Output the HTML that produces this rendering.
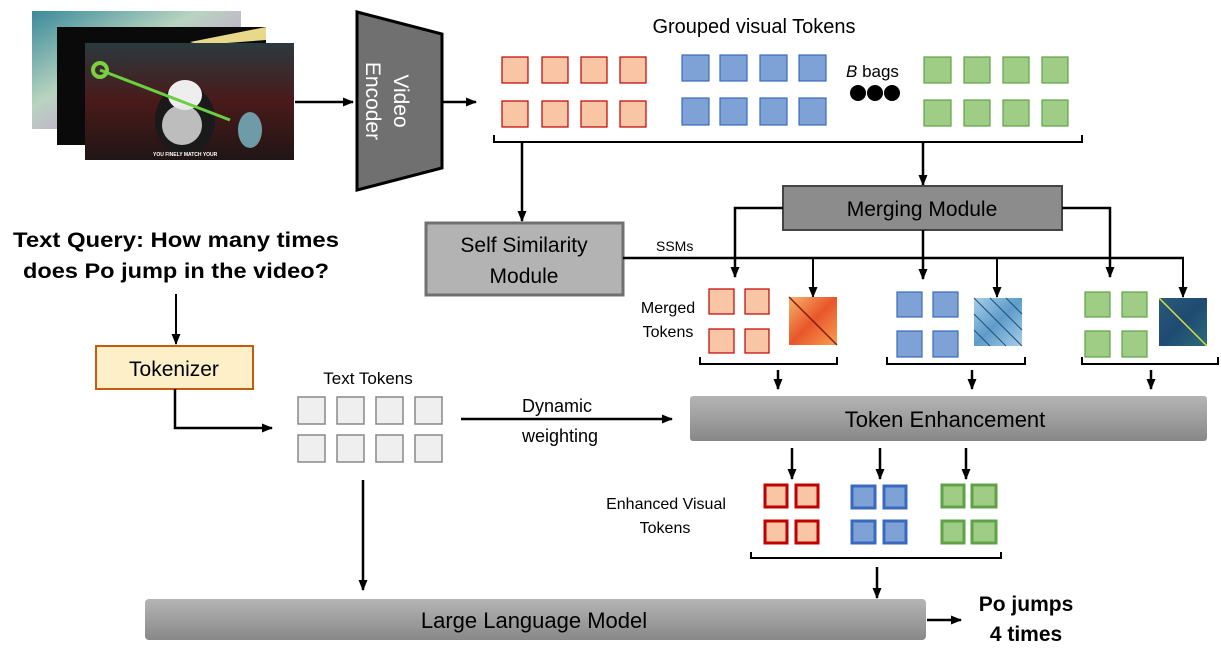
<!DOCTYPE html>
<html><head><meta charset="utf-8"><style>
html,body{margin:0;padding:0;background:#fff;}
svg{display:block;font-family:"Liberation Sans",sans-serif;}
</style></head><body>
<svg width="1221" height="651" viewBox="0 0 1221 651" xmlns="http://www.w3.org/2000/svg">
<defs>
<marker id="a" markerWidth="12" markerHeight="12" refX="10" refY="6" orient="auto" markerUnits="userSpaceOnUse"><path d="M0,1.5 L11,6 L0,10.5 z" fill="#000"/></marker>
<linearGradient id="g" x1="0" y1="0" x2="0" y2="1"><stop offset="0" stop-color="#b5b5b5"/><stop offset="1" stop-color="#888"/></linearGradient>
<linearGradient id="f1" x1="0" y1="0" x2="1" y2="1"><stop offset="0" stop-color="#3a8a9a"/><stop offset=".4" stop-color="#b8d4c0"/><stop offset=".7" stop-color="#c9a0d0"/><stop offset="1" stop-color="#e0c8e8"/></linearGradient>
<linearGradient id="f3" x1="0" y1="0" x2="0" y2="1"><stop offset="0" stop-color="#2a3a3e"/><stop offset=".5" stop-color="#4a1a1a"/><stop offset="1" stop-color="#201515"/></linearGradient>
<linearGradient id="hp" x1="0" y1="0" x2="1" y2="1"><stop offset="0" stop-color="#f7b36a"/><stop offset=".5" stop-color="#e8562a"/><stop offset="1" stop-color="#f8a050"/></linearGradient>
<linearGradient id="hb" x1="0" y1="0" x2="1" y2="1"><stop offset="0" stop-color="#a8cde8"/><stop offset=".5" stop-color="#5e9cc8"/><stop offset="1" stop-color="#a8cde8"/></linearGradient>
<linearGradient id="hg" x1="0" y1="0" x2="1" y2="1"><stop offset="0" stop-color="#2b5a7a"/><stop offset=".5" stop-color="#1f4a72"/><stop offset="1" stop-color="#2a6a7a"/></linearGradient>
</defs>

<rect x="32" y="11" width="209" height="118" fill="url(#f1)"/>
<rect x="57" y="27" width="209" height="118" fill="#0a0a0a"/>
<path d="M190,42 L266,27 L266,40 L200,45z" fill="#e8d88a"/>
<rect x="85" y="43" width="209" height="117" fill="url(#f3)"/>
<ellipse cx="185" cy="120" rx="30" ry="35" fill="#1a1a1a"/>
<ellipse cx="185" cy="95" rx="17" ry="15" fill="#eee"/>
<ellipse cx="182" cy="125" rx="20" ry="20" fill="#e6e6e6" opacity=".8"/>
<line x1="100" y1="70" x2="230" y2="120" stroke="#6ad040" stroke-width="3"/>
<circle cx="100" cy="70" r="7" fill="none" stroke="#7ad040" stroke-width="4"/>
<ellipse cx="250" cy="130" rx="12" ry="18" fill="#6f9aa8"/>
<text x="153" y="156" font-size="5" fill="#fff" font-weight="bold">YOU FINELY MATCH YOUR</text>

<path d="M357,12 L442,34 L442,168 L357,190 Z" fill="#707070" stroke="#000" stroke-width="3"/>
<text transform="translate(386,101) rotate(90)" text-anchor="middle" font-size="21" fill="#fff"><tspan x="0" dy="-8">Video</tspan><tspan x="0" dy="28">Encoder</tspan></text>
<line x1="295" y1="102" x2="353" y2="102" stroke="#000" stroke-width="2.5" marker-end="url(#a)"/>
<line x1="442" y1="102" x2="476" y2="102" stroke="#000" stroke-width="2.5" marker-end="url(#a)"/>

<text x="754" y="33" font-size="20" text-anchor="middle">Grouped visual Tokens</text>
<g fill="#f8c5a5" stroke="#c00000" stroke-width="1.2">
<rect x="502" y="57" width="26" height="26"/><rect x="542" y="57" width="26" height="26"/><rect x="581" y="57" width="26" height="26"/><rect x="620" y="57" width="26" height="26"/>
<rect x="502" y="101" width="26" height="26"/><rect x="542" y="101" width="26" height="26"/><rect x="581" y="101" width="26" height="26"/><rect x="620" y="101" width="26" height="26"/>
</g>
<g fill="#7fa2d6" stroke="#3a6abf" stroke-width="1.2">
<rect x="682" y="55" width="27" height="26"/><rect x="720" y="55" width="27" height="26"/><rect x="760" y="55" width="27" height="26"/><rect x="799" y="55" width="27" height="26"/>
<rect x="682" y="98" width="27" height="27"/><rect x="720" y="98" width="27" height="27"/><rect x="760" y="98" width="27" height="27"/><rect x="799" y="98" width="27" height="27"/>
</g>
<g fill="#9fcd86" stroke="#5fa245" stroke-width="1.2">
<rect x="924" y="57" width="27" height="26"/><rect x="964" y="57" width="26" height="26"/><rect x="1003" y="57" width="26" height="26"/><rect x="1042" y="57" width="26" height="26"/>
<rect x="924" y="100" width="27" height="26"/><rect x="964" y="100" width="26" height="26"/><rect x="1003" y="100" width="26" height="26"/><rect x="1042" y="100" width="26" height="26"/>
</g>
<text x="846" y="77" font-size="17"><tspan font-style="italic">B</tspan> bags</text>
<circle cx="858" cy="93" r="8"/><circle cx="875" cy="93" r="8"/><circle cx="892" cy="93" r="8"/>
<path d="M494,135 L494,142 L1082,142 L1082,135" fill="none" stroke="#000" stroke-width="2"/>
<line x1="522" y1="142" x2="522" y2="221" stroke="#000" stroke-width="2.5" marker-end="url(#a)"/>
<line x1="923" y1="142" x2="923" y2="185" stroke="#000" stroke-width="2.5" marker-end="url(#a)"/>

<rect x="426" y="223" width="197" height="72" fill="#b3b3b3" stroke="#707070" stroke-width="3"/>
<text x="524" y="252" font-size="21" text-anchor="middle">Self Similarity</text>
<text x="524" y="283" font-size="21" text-anchor="middle">Module</text>

<rect x="783" y="186" width="279" height="44" fill="#8c8c8c" stroke="#444" stroke-width="2"/>
<text x="922" y="216" font-size="21" text-anchor="middle">Merging Module</text>
<path d="M783,208 L735,208 L735,277" fill="none" stroke="#000" stroke-width="2.5" marker-end="url(#a)"/>
<path d="M1062,208 L1110,208 L1110,277" fill="none" stroke="#000" stroke-width="2.5" marker-end="url(#a)"/>
<line x1="923" y1="230" x2="923" y2="279" stroke="#000" stroke-width="2.5" marker-end="url(#a)"/>
<line x1="623" y1="258" x2="1184" y2="258" stroke="#000" stroke-width="2.5"/>
<text x="656" y="251" font-size="14">SSMs</text>
<line x1="813" y1="258" x2="813" y2="297" stroke="#000" stroke-width="2" marker-end="url(#a)"/>
<line x1="997" y1="258" x2="997" y2="297" stroke="#000" stroke-width="2" marker-end="url(#a)"/>
<line x1="1183" y1="258" x2="1183" y2="297" stroke="#000" stroke-width="2" marker-end="url(#a)"/>

<text x="668" y="313" font-size="16" text-anchor="middle">Merged</text>
<text x="668" y="337" font-size="16" text-anchor="middle">Tokens</text>
<g fill="#f8c5a5" stroke="#c00000" stroke-width="1.2">
<rect x="709" y="289" width="25" height="25"/><rect x="745" y="289" width="24" height="25"/>
<rect x="709" y="329" width="25" height="24"/><rect x="745" y="329" width="24" height="24"/>
</g>
<rect x="789" y="297" width="48" height="48" fill="url(#hp)"/>
<line x1="789" y1="297" x2="837" y2="345" stroke="#8a1a10" stroke-width="1.5"/>
<g fill="#7fa2d6" stroke="#3a6abf" stroke-width="1.2">
<rect x="897" y="292" width="25" height="25"/><rect x="933" y="292" width="25" height="25"/>
<rect x="897" y="331" width="25" height="26"/><rect x="933" y="331" width="25" height="26"/>
</g>
<rect x="974" y="298" width="48" height="48" fill="url(#hb)"/>
<g stroke="#1f4f80" stroke-width="1"><line x1="974" y1="298" x2="1022" y2="346"/><line x1="974" y1="314" x2="1006" y2="346"/><line x1="990" y1="298" x2="1022" y2="330"/><line x1="974" y1="330" x2="990" y2="346"/><line x1="1006" y1="298" x2="1022" y2="314"/></g>
<g fill="#9fcd86" stroke="#5fa245" stroke-width="1.2">
<rect x="1085" y="292" width="25" height="25"/><rect x="1122" y="292" width="25" height="25"/>
<rect x="1085" y="331" width="25" height="26"/><rect x="1122" y="331" width="25" height="26"/>
</g>
<rect x="1159" y="298" width="48" height="48" fill="url(#hg)"/>
<line x1="1159" y1="298" x2="1207" y2="346" stroke="#d8e040" stroke-width="1.5"/>
<g fill="none" stroke="#000" stroke-width="2">
<path d="M700,357 L700,364 L837,364 L837,357"/>
<path d="M887,357 L887,364 L1025,364 L1025,357"/>
<path d="M1082,357 L1082,364 L1218,364 L1218,357"/>
</g>
<g stroke="#000" stroke-width="2.5">
<line x1="778" y1="370" x2="778" y2="389" marker-end="url(#a)"/>
<line x1="972" y1="370" x2="972" y2="389" marker-end="url(#a)"/>
<line x1="1151" y1="370" x2="1151" y2="389" marker-end="url(#a)"/>
</g>

<rect x="690" y="396" width="517" height="45" rx="3" fill="url(#g)"/>
<text x="945" y="427" font-size="22" text-anchor="middle">Token Enhancement</text>

<text x="176" y="247" font-size="21" font-weight="bold" text-anchor="middle" textLength="326" lengthAdjust="spacingAndGlyphs">Text Query: How many times</text>
<text x="176" y="278" font-size="21" font-weight="bold" text-anchor="middle" textLength="306" lengthAdjust="spacingAndGlyphs">does Po jump in the video?</text>
<line x1="176" y1="294" x2="176" y2="344" stroke="#000" stroke-width="2" marker-end="url(#a)"/>
<rect x="96" y="346" width="157" height="43" fill="#fdefc8" stroke="#c55a11" stroke-width="2"/>
<text x="174" y="376" font-size="21" text-anchor="middle">Tokenizer</text>
<path d="M175,389 L175,428 L272,428" fill="none" stroke="#000" stroke-width="2.5" marker-end="url(#a)"/>
<text x="368" y="384" font-size="17" text-anchor="middle">Text Tokens</text>
<g fill="#efefef" stroke="#888" stroke-width="1.5">
<rect x="298" y="397" width="27" height="27"/><rect x="337" y="397" width="27" height="27"/><rect x="376" y="397" width="27" height="27"/><rect x="415" y="397" width="27" height="27"/>
<rect x="298" y="435" width="27" height="27"/><rect x="337" y="435" width="27" height="27"/><rect x="376" y="435" width="27" height="27"/><rect x="415" y="435" width="27" height="27"/>
</g>
<line x1="461" y1="419" x2="672" y2="419" stroke="#000" stroke-width="2.5" marker-end="url(#a)"/>
<text x="557" y="412" font-size="18" text-anchor="middle">Dynamic</text>
<text x="560" y="442" font-size="18" text-anchor="middle">weighting</text>
<line x1="363" y1="480" x2="363" y2="590" stroke="#000" stroke-width="2.5" marker-end="url(#a)"/>

<g stroke="#000" stroke-width="2.5">
<line x1="792" y1="448" x2="792" y2="479" marker-end="url(#a)"/>
<line x1="880" y1="448" x2="880" y2="479" marker-end="url(#a)"/>
<line x1="966" y1="448" x2="966" y2="479" marker-end="url(#a)"/>
</g>
<text x="666" y="509" font-size="16" text-anchor="middle">Enhanced Visual</text>
<text x="665" y="533" font-size="16" text-anchor="middle">Tokens</text>
<g fill="#f8c5a5" stroke="#c00000" stroke-width="3">
<rect x="765" y="485" width="22" height="22"/><rect x="796" y="485" width="22" height="22"/>
<rect x="765" y="521" width="22" height="22"/><rect x="796" y="521" width="22" height="22"/>
</g>
<g fill="#7fa2d6" stroke="#3a6abf" stroke-width="3">
<rect x="852" y="486" width="23" height="22"/><rect x="884" y="486" width="22" height="22"/>
<rect x="852" y="521" width="23" height="22"/><rect x="884" y="521" width="22" height="22"/>
</g>
<g fill="#9fcd86" stroke="#5fa245" stroke-width="3">
<rect x="942" y="485" width="22" height="22"/><rect x="972" y="485" width="24" height="22"/>
<rect x="942" y="521" width="22" height="22"/><rect x="972" y="521" width="24" height="22"/>
</g>
<path d="M751,552 L751,558 L1001,558 L1001,552" fill="none" stroke="#000" stroke-width="2"/>
<line x1="877" y1="567" x2="877" y2="598" stroke="#000" stroke-width="2.5" marker-end="url(#a)"/>

<rect x="145" y="599" width="781" height="41" rx="4" fill="url(#g)"/>
<text x="534" y="628" font-size="22" text-anchor="middle">Large Language Model</text>
<line x1="927" y1="620" x2="961" y2="620" stroke="#000" stroke-width="2.5" marker-end="url(#a)"/>
<text x="1026" y="611" font-size="21" font-weight="bold" text-anchor="middle">Po jumps</text>
<text x="1026" y="641" font-size="21" font-weight="bold" text-anchor="middle">4 times</text>
</svg>
</body></html>
